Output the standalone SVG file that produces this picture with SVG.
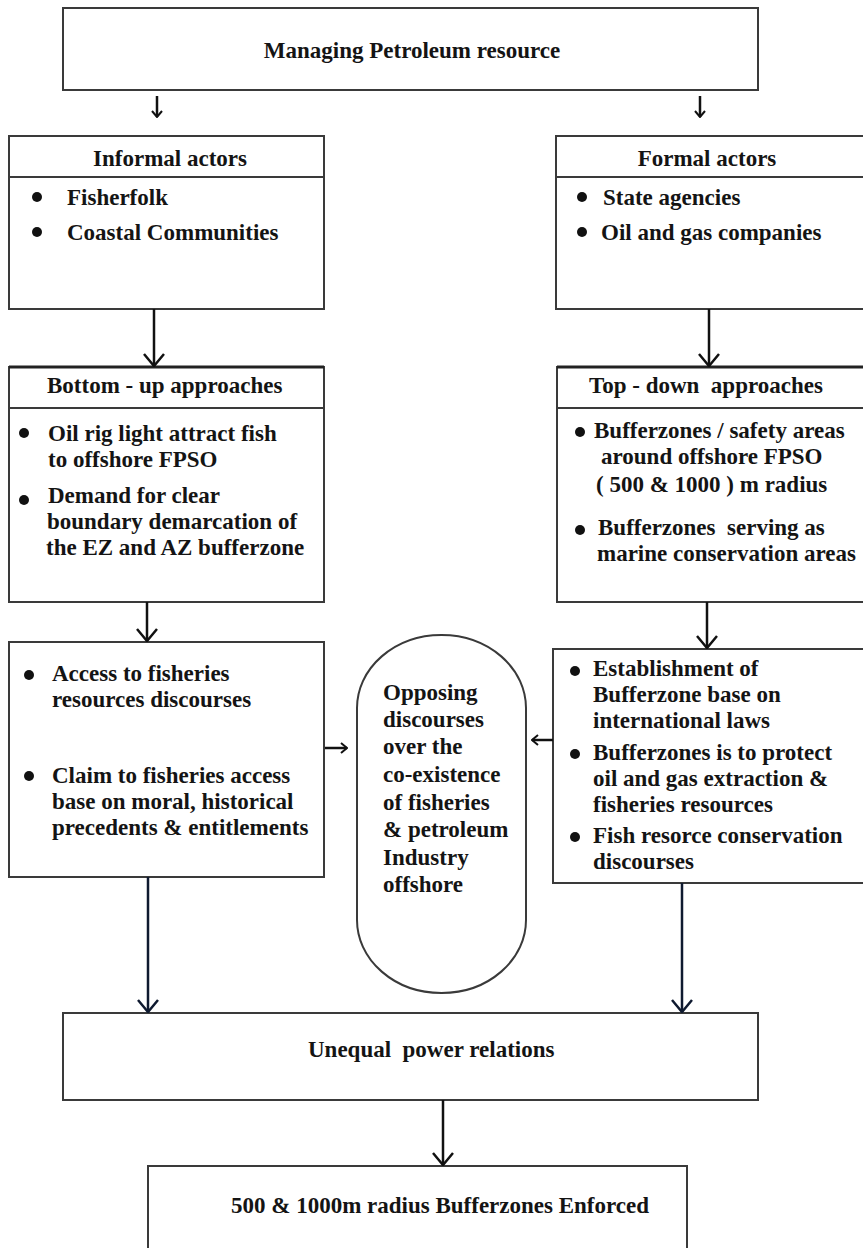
<svg xmlns="http://www.w3.org/2000/svg" width="863" height="1248" viewBox="0 0 863 1248">
  <style>
    .box { fill: #ffffff; stroke: #3a3a3a; stroke-width: 2; }
    .div { stroke: #3a3a3a; stroke-width: 2; }
    .t { font-family: "Liberation Serif", "Times New Roman", serif; font-weight: bold; font-size: 23px; fill: #141414; white-space: pre; }
    .c { text-anchor: middle; }
    .dot { fill: #111111; }
    .conn { fill: none; stroke: #111111; stroke-width: 2.5; }
    .conn-dk { fill: none; stroke: #0f1a30; stroke-width: 2.5; }
  </style>
  <defs>
    <marker id="headL" viewBox="0 0 14 22" refX="13" refY="11" markerWidth="14" markerHeight="22" orient="auto" markerUnits="userSpaceOnUse">
      <path d="M1,1 L13,11 L1,21" fill="none" stroke="#111111" stroke-width="2.5"/>
    </marker>
    <marker id="headLdk" viewBox="0 0 14 22" refX="13" refY="11" markerWidth="14" markerHeight="22" orient="auto" markerUnits="userSpaceOnUse">
      <path d="M1,1 L13,11 L1,21" fill="none" stroke="#0f1a30" stroke-width="2.5"/>
    </marker>
    <marker id="headS" viewBox="0 0 8 12" refX="7" refY="6" markerWidth="8" markerHeight="12" orient="auto" markerUnits="userSpaceOnUse">
      <path d="M1,1 L7,6 L1,11" fill="none" stroke="#111111" stroke-width="2"/>
    </marker>
  </defs>

  <rect width="863" height="1248" fill="#ffffff"/>

  <!-- top node -->
  <g id="managing">
    <rect class="box" x="63" y="8" width="695" height="82"/>
    <text class="t c" x="412" y="58">Managing Petroleum resource</text>
  </g>

  <!-- actors -->
  <g id="informal-actors">
    <rect class="box" x="9" y="136" width="315" height="173"/>
    <line class="div" x1="9" y1="177" x2="324" y2="177"/>
    <text class="t c" x="170" y="166">Informal actors</text>
    <circle class="dot" cx="37" cy="197" r="5"/>
    <text class="t" x="67" y="205">Fisherfolk</text>
    <circle class="dot" cx="37" cy="232" r="5"/>
    <text class="t" x="67" y="240">Coastal Communities</text>
  </g>

  <g id="formal-actors">
    <rect class="box" x="556" y="136" width="312" height="173"/>
    <line class="div" x1="556" y1="177" x2="868" y2="177"/>
    <text class="t c" x="707" y="166">Formal actors</text>
    <circle class="dot" cx="582" cy="197" r="5"/>
    <text class="t" x="603" y="205">State agencies</text>
    <circle class="dot" cx="582" cy="232" r="5"/>
    <text class="t" x="601" y="240">Oil and gas companies</text>
  </g>

  <!-- approaches -->
  <g id="bottom-up">
    <rect class="box" x="9" y="367" width="315" height="235"/>
    <line x1="9" y1="367" x2="324" y2="367" stroke="#222" stroke-width="3"/>
    <line class="div" x1="9" y1="408" x2="324" y2="408"/>
    <text class="t" x="47" y="393">Bottom - up approaches</text>
    <circle class="dot" cx="24" cy="433" r="5"/>
    <text class="t"><tspan x="48" y="441">Oil rig light attract fish</tspan><tspan x="48" y="467">to offshore FPSO</tspan></text>
    <circle class="dot" cx="24" cy="500" r="5"/>
    <text class="t"><tspan x="48" y="503">Demand for clear</tspan><tspan x="47" y="529">boundary demarcation of</tspan><tspan x="46" y="555">the EZ and AZ bufferzone</tspan></text>
  </g>

  <g id="top-down">
    <rect class="box" x="557" y="367" width="311" height="235"/>
    <line x1="557" y1="367" x2="868" y2="367" stroke="#222" stroke-width="3"/>
    <line class="div" x1="557" y1="408" x2="868" y2="408"/>
    <text class="t" x="589" y="393">Top - down  approaches</text>
    <circle class="dot" cx="580" cy="432" r="5"/>
    <text class="t"><tspan x="594" y="438">Bufferzones / safety areas</tspan><tspan x="601" y="464">around offshore FPSO</tspan><tspan x="596" y="492">( 500 &amp; 1000 ) m radius</tspan></text>
    <circle class="dot" cx="580" cy="530" r="5"/>
    <text class="t"><tspan x="598" y="535">Bufferzones  serving as</tspan><tspan x="597" y="561">marine conservation areas</tspan></text>
  </g>

  <!-- discourses -->
  <g id="informal-discourses">
    <rect class="box" x="9" y="642" width="315" height="235"/>
    <circle class="dot" cx="29" cy="675" r="5"/>
    <text class="t"><tspan x="52" y="681">Access to fisheries</tspan><tspan x="52" y="707">resources discourses</tspan></text>
    <circle class="dot" cx="29" cy="776" r="5"/>
    <text class="t"><tspan x="52" y="783">Claim to fisheries access</tspan><tspan x="52" y="809">base on moral, historical</tspan><tspan x="52" y="835">precedents &amp; entitlements</tspan></text>
  </g>

  <g id="opposing-discourses">
    <rect class="box" x="357" y="635" width="169" height="358" rx="84.5" ry="73" stroke-width="1.6"/>
    <text class="t"><tspan x="383" y="700">Opposing</tspan><tspan x="383" y="727">discourses</tspan><tspan x="383" y="754">over the</tspan><tspan x="383" y="782">co-existence</tspan><tspan x="383" y="810">of fisheries</tspan><tspan x="383" y="837">&amp; petroleum</tspan><tspan x="383" y="865">Industry</tspan><tspan x="383" y="892">offshore</tspan></text>
  </g>

  <g id="formal-discourses">
    <rect class="box" x="553" y="649" width="315" height="234"/>
    <circle class="dot" cx="575" cy="671" r="5"/>
    <text class="t"><tspan x="593" y="676">Establishment of</tspan><tspan x="593" y="702">Bufferzone base on</tspan><tspan x="593" y="728">international laws</tspan></text>
    <circle class="dot" cx="575" cy="754" r="5"/>
    <text class="t"><tspan x="593" y="760">Bufferzones is to protect</tspan><tspan x="593" y="786">oil and gas extraction &amp;</tspan><tspan x="593" y="812">fisheries resources</tspan></text>
    <circle class="dot" cx="575" cy="837" r="5"/>
    <text class="t"><tspan x="593" y="843">Fish resorce conservation</tspan><tspan x="593" y="869">discourses</tspan></text>
  </g>

  <!-- outcomes -->
  <g id="unequal-power">
    <rect class="box" x="63" y="1013" width="695" height="87"/>
    <text class="t" x="308" y="1057">Unequal  power relations</text>
  </g>

  <g id="bufferzones-enforced">
    <rect class="box" x="148" y="1166" width="539" height="100"/>
    <text class="t" x="231" y="1213">500 &amp; 1000m radius Bufferzones Enforced</text>
  </g>

  <!-- connectors -->
  <g id="connectors">
    <line class="conn" x1="157" y1="96" x2="157" y2="117" stroke-width="2" marker-end="url(#headS)"/>
    <line class="conn" x1="700" y1="96" x2="700" y2="117" stroke-width="2" marker-end="url(#headS)"/>
    <line class="conn" x1="154" y1="309" x2="154" y2="366" marker-end="url(#headL)"/>
    <line class="conn" x1="709" y1="309" x2="709" y2="366" marker-end="url(#headL)"/>
    <line class="conn" x1="147" y1="602" x2="147" y2="641" marker-end="url(#headL)"/>
    <line class="conn" x1="707" y1="602" x2="707" y2="648" marker-end="url(#headL)"/>
    <line class="conn" x1="325" y1="748" x2="347" y2="748" stroke-width="2" marker-end="url(#headS)"/>
    <line class="conn" x1="553" y1="740" x2="532" y2="740" stroke-width="2" marker-end="url(#headS)"/>
    <line class="conn-dk" x1="148" y1="877" x2="148" y2="1012" marker-end="url(#headLdk)"/>
    <line class="conn-dk" x1="682" y1="883" x2="682" y2="1012" marker-end="url(#headLdk)"/>
    <line class="conn" x1="443" y1="1100" x2="443" y2="1165" marker-end="url(#headL)"/>
  </g>
</svg>
